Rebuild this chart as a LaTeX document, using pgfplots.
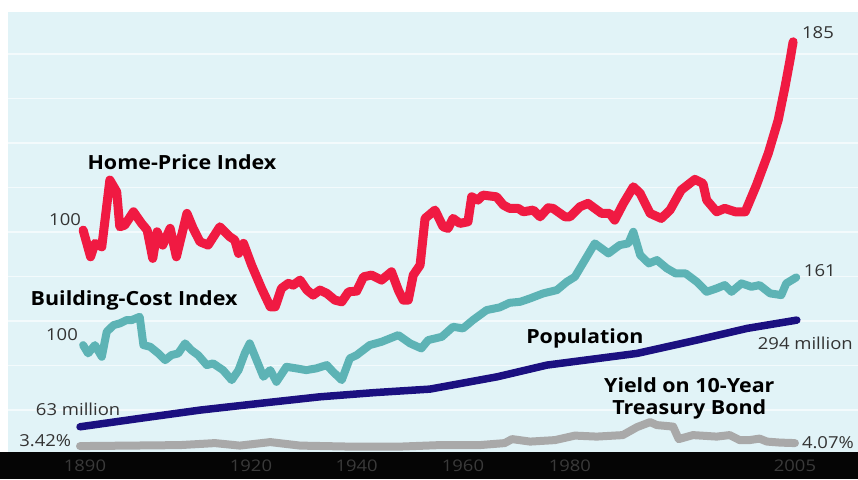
\documentclass[border=0pt]{standalone}
\usepackage{pgfplots}
\pgfplotsset{compat=1.18}
\usepackage{graphicx}
\usepackage{fontspec}
\setmainfont{Open Sans}
\definecolor{hpi}{HTML}{F01A42}
\definecolor{bci}{HTML}{5DB3B5}
\definecolor{pop}{HTML}{1B1080}
\definecolor{yld}{HTML}{A9A9A9}
\definecolor{panel}{HTML}{E1F3F7}
\definecolor{gridc}{HTML}{F3FAFC}
\definecolor{tickgray}{HTML}{3A3A3A}
\definecolor{numgray}{HTML}{333333}
\newcommand{\wb}[1]{\scalebox{1.1}[1]{#1}}
\newcommand{\wn}[1]{\scalebox{1.12}[1]{#1}}
\newcommand{\wt}[1]{\scalebox{1.15}[1]{#1}}
\begin{document}
\begin{tikzpicture}
\begin{axis}[
  width=858pt, height=479pt, scale only axis,
  xmin=1877.13, xmax=2015.14, ymin=-27, ymax=452,
  axis line style={draw=none},
  ytick=\empty,
  xtick={1890.8,1917.5,1934.5,1951.6,1968.8,2005},
  xticklabels={\wt{1890},\wt{1920},\wt{1940},\wt{1960},\wt{1980},\wt{2005}},
  major tick length=0pt,
  xticklabel style={anchor=center, yshift=13.5pt, font=\fontsize{16}{16}\selectfont, text=tickgray},
  axis on top,
  clip=true,
  every axis plot/.append style={line join=round, line cap=round, no markers},
]
% backgrounds
\fill[panel] (axis cs:1878.4,0) rectangle (axis cs:2015.14,440);
\fill[black!98] (axis cs:1877.13,-27) rectangle (axis cs:2015.14,0);
\foreach \g in {42,86.5,131,175.5,220,264.5,309,353.5,398}{
  \edef\tmp{\noexpand\draw[gridc, line width=1.3pt] (axis cs:1878.4,\g) -- (axis cs:2015.14,\g);}\tmp
}
% Yield on 10-year treasury bond
\addplot[yld, line width=8pt] coordinates {
(1890,6) (1898.0,6.5) (1906.1,7) (1911.7,9) (1915.7,6.5) (1920.6,10) (1925.4,6.5)
(1933.4,5.5) (1941.5,5.5) (1947.9,7) (1954.3,7) (1958.3,9) (1959.5,13) (1962.4,10.5)
(1966.4,12) (1969.6,16.5) (1973.1,15.5) (1977.3,17) (1979.6,25) (1981.7,30) (1982.8,27)
(1985.4,25.5) (1986.3,13) (1988.6,17) (1992.4,15.5) (1994.5,17) (1996.1,12) (1997.7,12)
(1999.3,13.5) (2000.5,10.5) (2002.6,9.5) (2005.0,9)
};
% Population
\addplot[pop, line width=7.5pt] coordinates {
(1890.0,25.3) (1899.6,33.7) (1909.3,42) (1918.9,48.7) (1928.6,55.3) (1937.4,59.5)
(1946.3,63) (1957.1,75.3) (1965.1,87) (1979.6,98.7) (1989.2,112) (1997.3,123.7) (2005.3,132)
};
% Building-cost index
\addplot[bci, line width=8pt] coordinates {
(1890.5,107) (1891.3,98.7) (1892.4,107) (1893.5,95.3) (1894.3,120.3) (1895.4,127)
(1896.4,128.7) (1897.5,132) (1898.3,132) (1899.6,135.3) (1900.2,107) (1901.3,105.3)
(1902.6,98.7) (1903.7,92) (1904.7,97) (1905.8,98.7) (1906.9,108.7) (1907.9,102)
(1909.0,97) (1910.4,87) (1911.4,88.7) (1913.0,82) (1914.4,72) (1915.5,82) (1916.5,98.7)
(1917.3,108.7) (1918.4,92) (1919.5,75.3) (1920.6,82) (1921.6,70.3) (1923.2,85.3)
(1924.8,83.7) (1926.4,82) (1928.0,83.7) (1929.7,87) (1930.7,80.3) (1932.1,72)
(1933.4,93.7) (1934.5,97) (1936.6,107) (1938.5,110.3) (1941.2,117) (1943.1,108.7)
(1944.9,103.7) (1946.0,112) (1948.2,115.3) (1950.0,125.3) (1951.6,123.7) (1953.2,132)
(1955.4,142) (1957.5,144.7) (1959.1,149.3) (1960.8,150.3) (1962.4,153.7) (1964.5,158.7)
(1966.7,162) (1968.3,170.3) (1969.6,175.3) (1972.8,208.7) (1975.0,198.7) (1976.8,207)
(1978.2,208.7) (1979.0,220.3) (1980.1,197) (1981.5,188.7) (1982.8,192) (1984.4,183.7)
(1985.8,178.7) (1987.4,178.7) (1989.2,170.3) (1990.8,160.3) (1992.4,163.7) (1993.7,167)
(1994.8,160.3) (1996.4,168.7) (1998.0,165.3) (1999.3,167) (2001.0,158.7) (2002.8,157)
(2003.6,168.7) (2005.2,174.7)
};
% Home-price index
\addplot[hpi, line width=9pt] coordinates {
(1890.5,222) (1891.7,195.3) (1892.4,208.7) (1893.5,205.3) (1894.8,272) (1895.9,260.3)
(1896.4,225.3) (1897.2,227) (1898.6,240.3) (1899.9,228.7) (1900.8,222) (1901.7,193.7)
(1902.4,220.3) (1903.3,207) (1904.5,223.7) (1905.5,195.3) (1907.2,238.7) (1908.2,223.7)
(1909.3,210.3) (1910.6,207) (1912.5,225.3) (1914.1,215.3) (1914.9,212) (1915.5,198.7)
(1916.3,208.7) (1917.6,187) (1919.2,163.7) (1920.6,145.3) (1921.4,145.3) (1922.4,163.7)
(1923.5,168.7) (1924.3,167) (1925.4,172) (1926.5,162) (1927.5,157) (1928.6,162)
(1929.7,158.7) (1931.0,152) (1932.1,150.3) (1933.2,160.3) (1934.5,161) (1935.6,175.3)
(1936.9,177) (1938.5,172) (1940.1,180.3) (1941.2,162) (1942.0,152) (1942.8,152)
(1943.6,177) (1944.7,187) (1945.5,233.7) (1947.1,242) (1948.4,225.3) (1949.2,223.7)
(1950.0,233.7) (1951.1,228.7) (1952.4,230.3) (1953.0,255.3) (1954.0,252) (1954.8,257)
(1957.0,255.3) (1958.1,247) (1959.1,243.7) (1960.5,243.7) (1961.3,240.3) (1962.9,242)
(1964.0,235.3) (1965.3,244.3) (1966.1,243.7) (1968.0,235.3) (1968.8,235.3) (1970.4,245.3)
(1971.7,248.7) (1973.9,238.7) (1975.2,238.7) (1976.0,232) (1977.4,248.7) (1979.0,265.3)
(1980.1,258.7) (1981.7,238.7) (1983.5,233.7) (1984.9,242) (1986.7,262) (1988.9,272.7)
(1990.2,268.7) (1990.8,252) (1992.4,240.3) (1993.7,243.7) (1995.4,240.3) (1997.0,240.3)
(1998.8,267) (2000.7,298.7) (2002.3,332) (2003.4,365.3) (2004.2,392) (2004.7,410.3)
};
% labels
\node[font=\bfseries\fontsize{19.5}{19.5}\selectfont] at (axis cs:1906.4,290) {\wb{Home-Price Index}};
\node[font=\bfseries\fontsize{19.5}{19.5}\selectfont] at (axis cs:1898.7,152) {\wb{Building-Cost Index}};
\node[font=\bfseries\fontsize{19.5}{19.5}\selectfont] at (axis cs:1971.2,114) {\wb{Population}};
\node[font=\bfseries\fontsize{19.5}{22}\selectfont, align=center] at (axis cs:1988.0,54) {\wb{Yield on 10-Year}\\\wb{Treasury Bond}};
\node[font=\fontsize{16.5}{16.5}\selectfont, text=numgray] at (axis cs:1887.6,232) {\wn{100}};
\node[font=\fontsize{16.5}{16.5}\selectfont, text=numgray] at (axis cs:2008.7,419) {\wn{185}};
\node[font=\fontsize{16.5}{16.5}\selectfont, text=numgray] at (axis cs:1887.1,118) {\wn{100}};
\node[font=\fontsize{16.5}{16.5}\selectfont, text=numgray] at (axis cs:2009.0,181) {\wn{161}};
\node[font=\fontsize{16.5}{16.5}\selectfont, text=numgray] at (axis cs:1889.7,43) {\wn{63 million}};
\node[font=\fontsize{16.5}{16.5}\selectfont, text=numgray, anchor=west, inner sep=0pt] at (axis cs:1999.0,109) {\wn{294 million}};
\node[font=\fontsize{16.5}{16.5}\selectfont, text=numgray, anchor=west, inner sep=0pt] at (axis cs:2006.1,9) {\wn{4.07\%}};
\node[font=\fontsize{16.5}{16.5}\selectfont, text=numgray] at (axis cs:1884.4,11) {\wn{3.42\%}};
\end{axis}
\end{tikzpicture}
\end{document}
